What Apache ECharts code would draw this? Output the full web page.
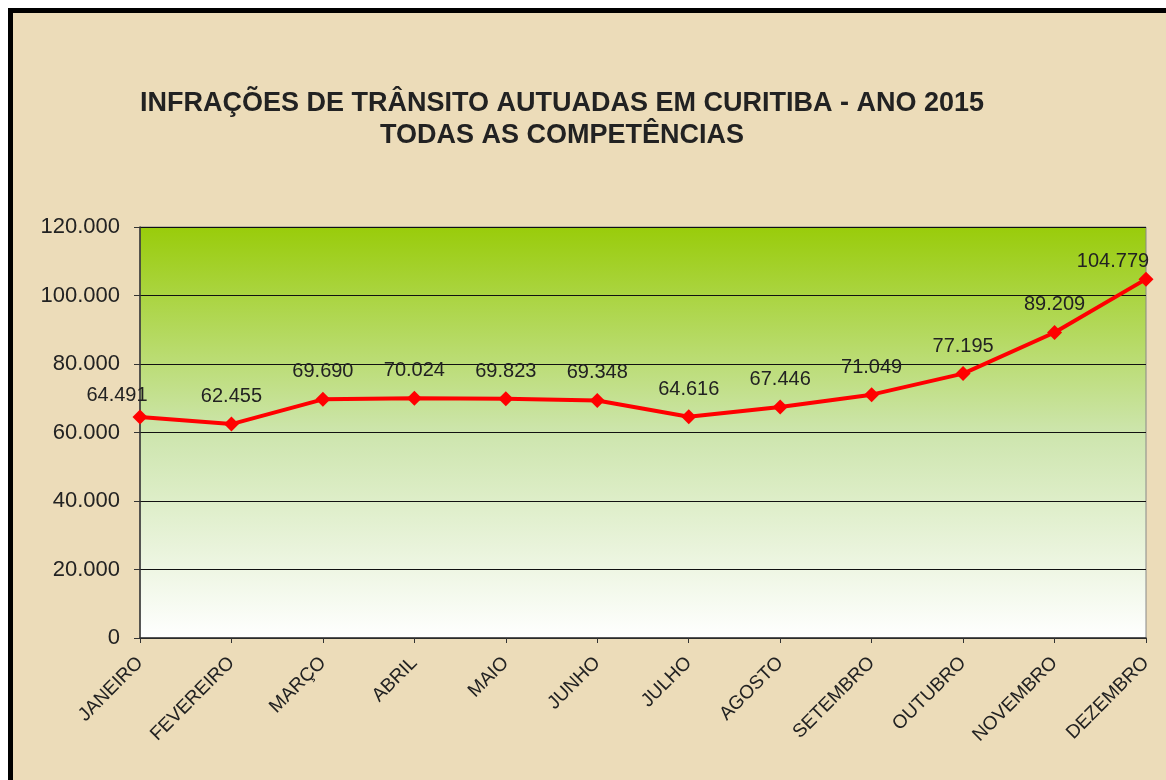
<!DOCTYPE html>
<html>
<head>
<meta charset="utf-8">
<script src="https://cdn.jsdelivr.net/npm/echarts@6/dist/echarts.min.js"></script>
<style>
  html, body { margin: 0; padding: 0; background: #fff; }
  #frame {
    position: absolute; left: 8px; top: 8px; width: 1158px; height: 772px;
    box-sizing: border-box;
    border-top: 5px solid #000; border-left: 5px solid #000;
    background: #ecdcb9;
  }
  #chart { position: absolute; left: 0; top: 0; width: 1166px; height: 780px; }
</style>
</head>
<body>
<div id="frame"></div>
<div id="chart"></div>
<script>
const titleLines = ['INFRAÇÕES DE TRÂNSITO AUTUADAS EM CURITIBA - ANO 2015', 'TODAS AS COMPETÊNCIAS']
const months = ['JANEIRO', 'FEVEREIRO', 'MARÇO', 'ABRIL', 'MAIO', 'JUNHO',
  'JULHO', 'AGOSTO', 'SETEMBRO', 'OUTUBRO', 'NOVEMBRO', 'DEZEMBRO']
const infractions = [64491, 62455, 69690, 70024, 69823, 69348,
  64616, 67446, 71049, 77195, 89209, 104779]

// 64491 -> "64.491"
function fmt(v) {
  return String(v).replace(/\B(?=(\d{3})+(?!\d))/g, '.')
}

const chart = echarts.init(document.getElementById('chart'))

// edge labels sit a bit inside and lower, like in the original
const points = infractions.map((v, i) => {
  let item = { value: v }
  if (i === 0) item.label = { offset: [-23, 6] }
  if (i === infractions.length - 1) item.label = { offset: [-33, 10] }
  return item
})

chart.setOption({
  animation: false,
  textStyle: { fontFamily: 'Liberation Sans, Arial, sans-serif' },
  title: {
    text: titleLines.join('\n'),
    left: 557,
    top: 83,
    textAlign: 'center',
    textStyle: { fontSize: 27, fontWeight: 'bold', color: '#222', lineHeight: 32 }
  },
  grid: {
    left: 140, right: 20, top: 227, bottom: 142,
    show: true,
    borderColor: '#888',
    borderWidth: 1,
    backgroundColor: new echarts.graphic.LinearGradient(0, 0, 0, 1, [
      { offset: 0, color: '#99cc0a' },
      { offset: 0.5, color: '#cde5ad' },
      { offset: 1, color: '#ffffff' }
    ])
  },
  xAxis: {
    type: 'category',
    data: months,
    boundaryGap: false,
    axisLine: { lineStyle: { color: '#333', width: 1.5 } },
    axisTick: { show: true, length: 5, lineStyle: { color: '#333' } },
    axisLabel: { rotate: 45, fontSize: 19, color: '#222', margin: 22, interval: 0 }
  },
  yAxis: {
    type: 'value',
    min: 0, max: 120000, interval: 20000,
    axisLine: { show: true, lineStyle: { color: '#333', width: 1.5 } },
    axisTick: { show: true, length: 6, lineStyle: { color: '#333' } },
    axisLabel: { fontSize: 22, color: '#222', margin: 20, formatter: fmt },
    splitLine: { lineStyle: { color: '#111', width: 1 } }
  },
  series: [{
    type: 'line',
    data: points,
    lineStyle: { color: '#ff0000', width: 4 },
    itemStyle: { color: '#ff0000' },
    symbol: 'diamond',
    symbolSize: 15,
    label: {
      show: true,
      position: 'top',
      distance: 10,
      fontSize: 20,
      color: '#222',
      formatter: p => fmt(p.value)
    }
  }]
})
</script>
</body>
</html>
